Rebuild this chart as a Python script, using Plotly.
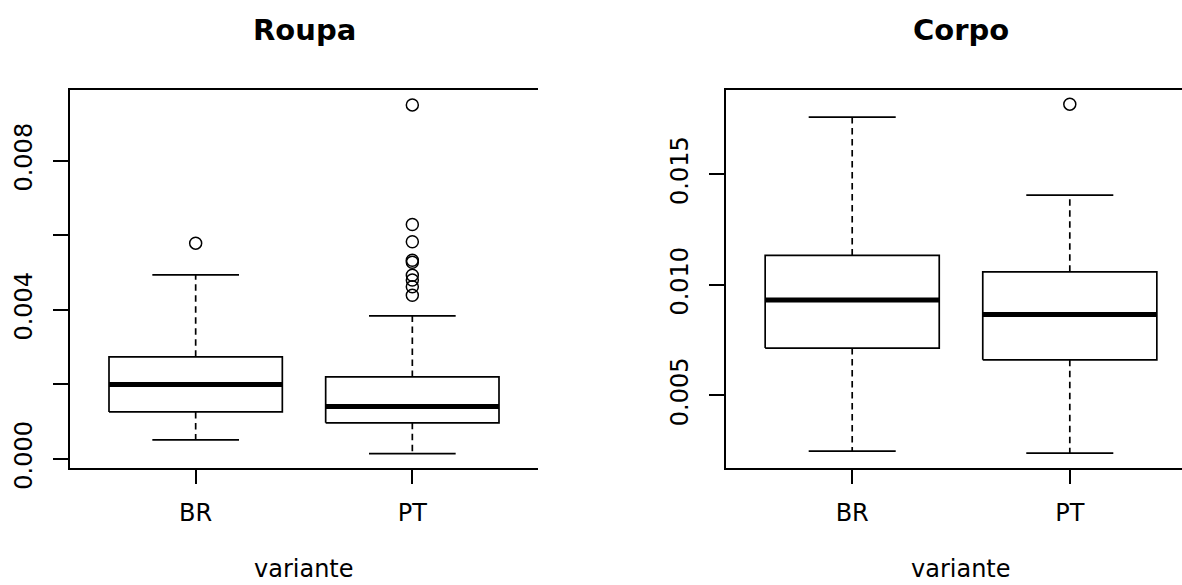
import plotly.graph_objects as go

# ---- data ----
groups = ["BR", "PT"]
panels = ["Roupa", "Corpo"]

roupa_lower = [0.00051, 0.00014]
roupa_q1 = [0.00126, 0.00097]
roupa_median = [0.00200, 0.00141]
roupa_q3 = [0.00274, 0.00220]
roupa_upper = [0.00494, 0.00384]
roupa_out_br = [0.00579]
roupa_out_pt = [0.00950, 0.00629, 0.00583, 0.00533, 0.00528, 0.00493, 0.00480, 0.00462, 0.00439]

corpo_lower = [0.00248, 0.00239]
corpo_q1 = [0.00714, 0.00661]
corpo_median = [0.00931, 0.00866]
corpo_q3 = [0.01133, 0.01059]
corpo_upper = [0.01758, 0.01406]
corpo_out_br = []
corpo_out_pt = [0.01817]

roupa_ticks = [0.000, 0.002, 0.004, 0.006, 0.008]
roupa_ticktext = ["0.000", "", "0.004", "", "0.008"]
corpo_ticks = [0.005, 0.010, 0.015]
corpo_ticktext = ["0.005", "0.010", "0.015"]

W, H = 1182, 585
FONT = "DejaVu Sans"
BOXW = 0.4   # half box width
CAPW = 0.2   # half staple width

fig = go.Figure()


def add_panel(xa, ya, lower, q1, med, q3, upper, outs):
    for i, g in enumerate(groups):
        x = i + 1
        # box
        fig.add_trace(go.Scatter(
            x=[x - BOXW, x + BOXW, x + BOXW, x - BOXW, x - BOXW],
            y=[q1[i], q1[i], q3[i], q3[i], q1[i]],
            mode="lines", line=dict(color="black", width=1.7),
            xaxis=xa, yaxis=ya, showlegend=False, hoverinfo="skip"))
        # median
        fig.add_trace(go.Scatter(
            x=[x - BOXW, x + BOXW], y=[med[i], med[i]],
            mode="lines", line=dict(color="black", width=5),
            xaxis=xa, yaxis=ya, showlegend=False, hoverinfo="skip"))
        # whiskers (dashed)
        for a, b in ((q3[i], upper[i]), (q1[i], lower[i])):
            fig.add_trace(go.Scatter(
                x=[x, x], y=[a, b], mode="lines",
                line=dict(color="black", width=1.7, dash="6.5px,4.5px"),
                xaxis=xa, yaxis=ya, showlegend=False, hoverinfo="skip"))
        # staples
        for v in (upper[i], lower[i]):
            fig.add_trace(go.Scatter(
                x=[x - CAPW, x + CAPW], y=[v, v], mode="lines",
                line=dict(color="black", width=1.7),
                xaxis=xa, yaxis=ya, showlegend=False, hoverinfo="skip"))
        # outliers
        o = outs[i]
        if o:
            fig.add_trace(go.Scatter(
                x=[x] * len(o), y=o, mode="markers",
                marker=dict(symbol="circle-open", size=12, color="black",
                            line=dict(width=1.5, color="black")),
                xaxis=xa, yaxis=ya, showlegend=False, hoverinfo="skip"))


add_panel("x", "y", roupa_lower, roupa_q1, roupa_median, roupa_q3, roupa_upper,
          [roupa_out_br, roupa_out_pt])
add_panel("x2", "y2", corpo_lower, corpo_q1, corpo_median, corpo_q3, corpo_upper,
          [corpo_out_br, corpo_out_pt])

ytop = 1 - 90 / H
ybot = 1 - 467.5 / H

xcommon = dict(
    tickvals=[1, 2], ticktext=groups, ticks="outside", ticklen=15,
    tickwidth=1.7, tickcolor="black", showline=True, linewidth=1.7,
    linecolor="black", mirror=True, showgrid=False, zeroline=False,
    tickfont=dict(family=FONT, size=24, color="black"),
    ticklabelstandoff=8, automargin=False,
)
ycommon = dict(
    ticks="outside", ticklen=15, tickwidth=1.7, tickcolor="black",
    showline=True, linewidth=1.7, linecolor="black", mirror=False,
    showgrid=False, zeroline=False, tickangle=-90,
    tickfont=dict(family=FONT, size=24, color="black"),
    ticklabelstandoff=12, automargin=False,
)

fig.update_layout(
    width=W, height=H,
    margin=dict(l=0, r=0, t=0, b=0),
    paper_bgcolor="white", plot_bgcolor="white",
    xaxis=dict(domain=[70 / W, 538 / W], range=[0.42, 2.58], anchor="y", **xcommon),
    yaxis=dict(domain=[ybot, ytop], range=[-0.00023, 0.00990], anchor="x",
               tickvals=roupa_ticks, ticktext=roupa_ticktext, **ycommon),
    xaxis2=dict(domain=[726 / W, 1.0], range=[0.42, 0.42 + 456 / 470 * 2.16],
                anchor="y2", **xcommon),
    yaxis2=dict(domain=[ybot, ytop], range=[0.00174, 0.01881], anchor="x2",
                tickvals=corpo_ticks, ticktext=corpo_ticktext, **ycommon),
)

for xr, title in (("x", panels[0]), ("x2", panels[1])):
    fig.add_annotation(x=1.5, xref=xr, y=1 - 30 / H, yref="paper",
                       text="<b>%s</b>" % title, showarrow=False,
                       xanchor="center", yanchor="middle",
                       font=dict(family=FONT, size=29, color="black"))
    fig.add_annotation(x=1.5, xref=xr, y=0, yref="paper",
                       text="variante", showarrow=False,
                       xanchor="center", yanchor="bottom",
                       font=dict(family=FONT, size=24, color="black"))

fig.write_html(
    "out.html",
    config={"displayModeBar": False},
    post_script="document.body.style.margin='0';document.body.style.overflow='hidden';",
)
